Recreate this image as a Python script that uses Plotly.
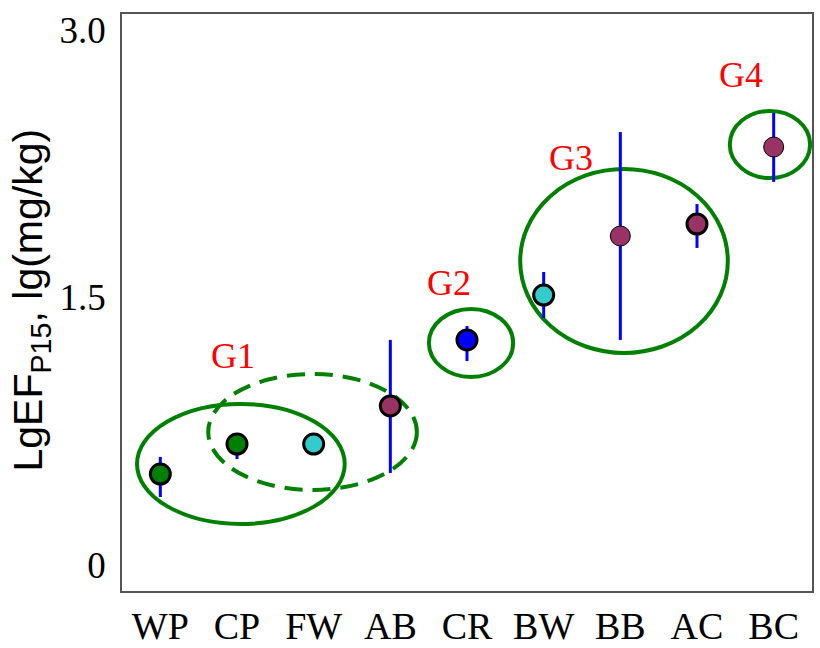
import plotly.graph_objects as go

categories = ["WP", "CP", "FW", "AB", "CR", "BW", "BB", "AC", "BC"]
values = [0.510, 0.678, 0.678, 0.892, 1.262, 1.514, 1.845, 1.912, 2.344]
err_plus = [0.096, 0.040, 0.0, 0.370, 0.078, 0.129, 0.583, 0.112, 0.191]
err_minus = [0.129, 0.084, 0.0, 0.376, 0.118, 0.129, 0.583, 0.134, 0.196]
colors = ["#008000", "#008000", "#33CCCC", "#993366", "#0000FF",
          "#33CCCC", "#993366", "#993366", "#993366"]
outline = [3, 3, 3, 3, 3, 3, 1, 3, 1]

ytick_vals = [0, 1.5, 3.0]
ytick_text = ["0", "1.5", "3.0"]

groups = ["G1", "G2", "G3", "G4"]

fig = go.Figure()
fig.add_trace(go.Scatter(
    x=categories, y=values, mode="markers",
    marker=dict(size=20, color=colors, line=dict(color="black", width=outline)),
    error_y=dict(type="data", symmetric=False, array=err_plus, arrayminus=err_minus,
                 color="#0000FF", thickness=3, width=0),
    showlegend=False, cliponaxis=False,
))

ellipses = [
    dict(x0=-0.304, x1=2.405, y0=0.230, y1=0.903, dash="solid"),
    dict(x0=0.625, x1=3.346, y0=0.421, y1=1.071, dash="18px,10px"),
    dict(x0=3.503, x1=4.602, y0=1.054, y1=1.436, dash="solid"),
    dict(x0=4.694, x1=7.402, y0=1.189, y1=2.221, dash="solid"),
    dict(x0=7.428, x1=8.475, y0=2.170, y1=2.546, dash="solid"),
]
for e in ellipses:
    fig.add_shape(type="circle", xref="x", yref="y", x0=e["x0"], x1=e["x1"],
                  y0=e["y0"], y1=e["y1"], layer="below",
                  line=dict(color="#008000", width=4, dash=e["dash"]))

label_pos = [(0.95, 1.17), (3.76, 1.58), (5.36, 2.28), (7.58, 2.75)]
for g, (gx, gy) in zip(groups, label_pos):
    fig.add_annotation(x=gx, y=gy, xref="x", yref="y", text=g, showarrow=False,
                       font=dict(family="Liberation Serif", size=36, color="#FF0000"))

fig.add_annotation(xref="paper", yref="paper", x=-0.132, y=0.505, xanchor="center",
                   yanchor="middle", textangle=-90, showarrow=False,
                   text="LgEF<sub>P15</sub>, lg(mg/kg)",
                   font=dict(family="Liberation Sans", size=41, color="black"))

fig.update_layout(
    width=820, height=648,
    margin=dict(l=122, r=8, t=14, b=57),
    paper_bgcolor="white", plot_bgcolor="white",
    xaxis=dict(type="category", range=[-0.5, 8.5], showgrid=False, zeroline=False,
               showline=True, mirror=True, linecolor="#555555", linewidth=1.5,
               ticks="", tickfont=dict(family="Liberation Serif", size=38, color="black"),
               ticklabelstandoff=1, automargin=False),
    yaxis=dict(range=[-0.146, 3.09], showgrid=False, zeroline=False,
               showline=True, mirror=True, linecolor="#555555", linewidth=1.5,
               ticks="", tickvals=ytick_vals, ticktext=ytick_text,
               tickfont=dict(family="Liberation Serif", size=37, color="black"),
               ticklabelstandoff=7, automargin=False),
)

fig.write_html("out.html", config={"displayModeBar": False},
               post_script="document.body.style.margin='0px';")
